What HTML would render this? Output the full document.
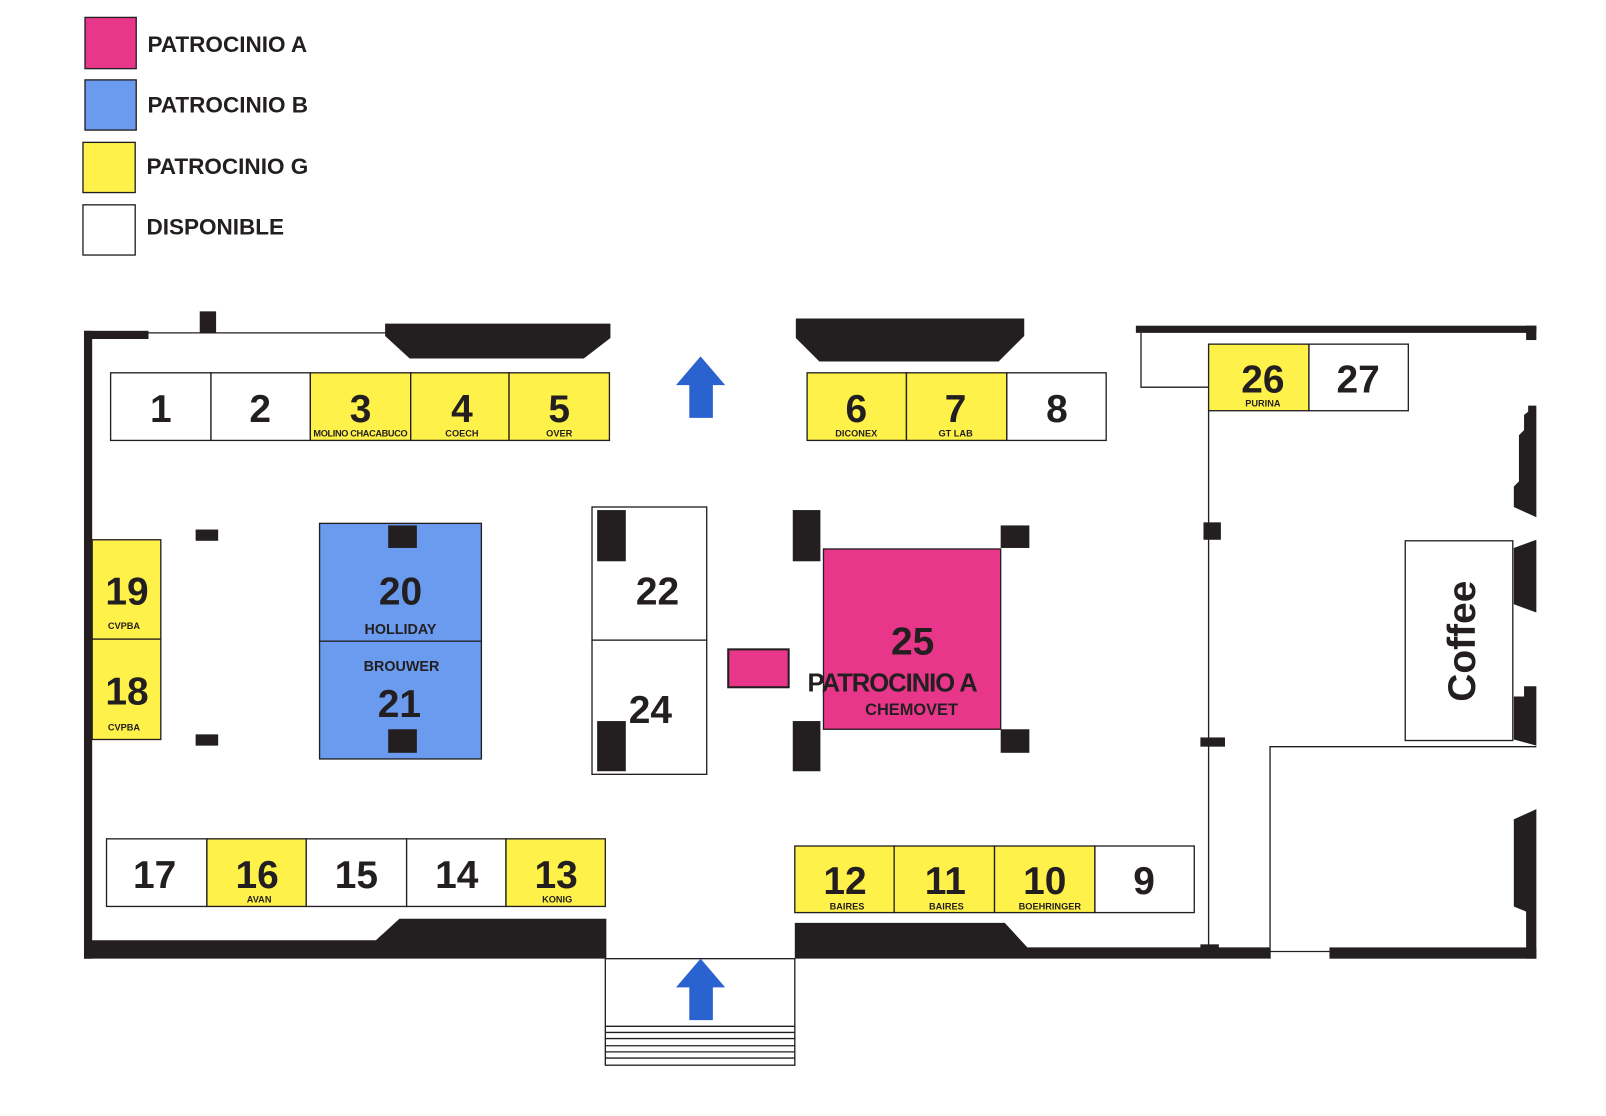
<!DOCTYPE html>
<html><head><meta charset="utf-8"><style>
html,body{margin:0;padding:0;background:#fff;}
svg{display:block;}
text{font-family:"Liberation Sans",sans-serif;font-weight:bold;fill:#231f20;}
.n{font-size:38px;text-anchor:middle;}
.s{font-size:9px;text-anchor:middle;}
.m{font-size:14px;text-anchor:middle;}
.lg{font-size:22px;}
.b{stroke:#231f20;stroke-width:1.3;}
</style></head><body>
<svg width="1606" height="1116" viewBox="0 0 1568 1089.6" preserveAspectRatio="none" xmlns="http://www.w3.org/2000/svg">
<!-- legend -->
<rect x="83" y="17" width="50" height="50" fill="#e8378a" class="b"/>
<rect x="83" y="78" width="50" height="49" fill="#6b9bef" class="b"/>
<rect x="81" y="139" width="51" height="49" fill="#fef24a" class="b"/>
<rect x="81" y="200" width="51" height="49" fill="#fff" class="b"/>
<text x="144" y="51" class="lg">PATROCINIO A</text>
<text x="144" y="110" class="lg">PATROCINIO B</text>
<text x="143" y="170" class="lg">PATROCINIO G</text>
<text x="143" y="229" class="lg">DISPONIBLE</text>

<g fill="#231f20">
<rect x="82" y="323" width="8" height="613"/>
<rect x="82" y="323" width="63" height="8"/>
<rect x="195" y="304" width="16" height="21"/>
<polygon points="376,316 596,316 596,330 570,350 400,350 376,328"/>
<polygon points="777,311 1000,311 1000,328 975,353 800,353 777,330"/>
<rect x="1109" y="318" width="391" height="7"/>
<rect x="1490" y="318" width="10" height="14"/>
<polygon points="1492,396 1500,396 1500,505 1478,495 1478,475 1483,470 1483,425 1488,420 1488,405 1492,402"/>
<polygon points="1478,535 1500,527 1500,598 1478,590"/>
<polygon points="1478,680 1488,680 1488,670 1500,670 1500,728 1478,722"/>
<polygon points="1478,800 1500,790 1500,936 1490,936 1490,890 1478,885"/>
<rect x="1175" y="510" width="17" height="17"/>
<rect x="1172" y="720" width="24" height="9"/>
<rect x="1172" y="922" width="18" height="10"/>
<polygon points="82,918 367,918 390,897 592,897 592,936 82,936"/>
<polygon points="776,901 981,901 1003,925 1240,925 1240,936 776,936"/>
<rect x="1298" y="925" width="202" height="11"/>
<rect x="191" y="517" width="22" height="11"/>
<rect x="191" y="717" width="22" height="11"/>
</g>
<g fill="none" class="b">
<line x1="145" y1="325" x2="378" y2="325"/>
<polyline points="1114,325 1114,378 1180,378"/>
<line x1="1180" y1="400" x2="1180" y2="930"/>
<polyline points="1240,936 1240,729 1500,729"/>
<line x1="1240" y1="929" x2="1298" y2="929"/>
<rect x="591" y="936" width="185" height="104"/>
<line x1="591" y1="1002" x2="776" y2="1002"/>
<line x1="591" y1="1008" x2="776" y2="1008"/>
<line x1="591" y1="1014" x2="776" y2="1014"/>
<line x1="591" y1="1021" x2="776" y2="1021"/>
<line x1="591" y1="1027" x2="776" y2="1027"/>
<line x1="591" y1="1033" x2="776" y2="1033"/>
</g>
<polygon points="684,348 708,376 696,376 696,408 673,408 673,376 660,376" fill="#2a62d0"/>
<polygon points="684,936 708,964 696,964 696,996 673,996 673,964 660,964" fill="#2a62d0"/>

<g class="b">
<rect x="108" y="364" width="98" height="66" fill="#fff"/>
<rect x="206" y="364" width="97" height="66" fill="#fff"/>
<rect x="303" y="364" width="98" height="66" fill="#fef24a"/>
<rect x="401" y="364" width="96" height="66" fill="#fef24a"/>
<rect x="497" y="364" width="98" height="66" fill="#fef24a"/>
<rect x="788" y="364" width="97" height="66" fill="#fef24a"/>
<rect x="885" y="364" width="98" height="66" fill="#fef24a"/>
<rect x="983" y="364" width="97" height="66" fill="#fff"/>
<rect x="1180" y="336" width="98" height="65" fill="#fef24a"/>
<rect x="1278" y="336" width="97" height="65" fill="#fff"/>
<rect x="90" y="527" width="67" height="97" fill="#fef24a"/>
<rect x="90" y="624" width="67" height="98" fill="#fef24a"/>
<rect x="312" y="511" width="158" height="115" fill="#6b9bef"/>
<rect x="312" y="626" width="158" height="115" fill="#6b9bef"/>
<rect x="578" y="495" width="112" height="130" fill="#fff"/>
<rect x="578" y="625" width="112" height="131" fill="#fff"/>
<rect x="711" y="634" width="59" height="37" fill="#e8378a" stroke-width="2"/>
<rect x="804" y="536" width="173" height="176" fill="#e8378a"/>
<rect x="1372" y="528" width="105" height="195" fill="#fff"/>
<rect x="104" y="819" width="98" height="66" fill="#fff"/>
<rect x="202" y="819" width="97" height="66" fill="#fef24a"/>
<rect x="299" y="819" width="98" height="66" fill="#fff"/>
<rect x="397" y="819" width="97" height="66" fill="#fff"/>
<rect x="494" y="819" width="97" height="66" fill="#fef24a"/>
<rect x="776" y="826" width="97" height="65" fill="#fef24a"/>
<rect x="873" y="826" width="98" height="65" fill="#fef24a"/>
<rect x="971" y="826" width="98" height="65" fill="#fef24a"/>
<rect x="1069" y="826" width="97" height="65" fill="#fff"/>
</g>
<g fill="#231f20">
<rect x="379" y="513" width="28" height="22"/>
<rect x="379" y="712" width="28" height="23"/>
<rect x="583" y="498" width="28" height="50"/>
<rect x="583" y="704" width="28" height="49"/>
<rect x="774" y="498" width="27" height="50"/>
<rect x="774" y="704" width="27" height="49"/>
<rect x="977" y="513" width="28" height="22"/>
<rect x="977" y="712" width="28" height="23"/>
</g>

<text x="157" y="412" class="n">1</text>
<text x="254" y="412" class="n">2</text>
<text x="352" y="412" class="n">3</text>
<text x="451" y="412" class="n">4</text>
<text x="546" y="412" class="n">5</text>
<text x="352" y="426" class="s" textLength="92">MOLINO CHACABUCO</text>
<text x="451" y="426" class="s">COECH</text>
<text x="546" y="426" class="s">OVER</text>
<text x="836" y="412" class="n">6</text>
<text x="933" y="412" class="n">7</text>
<text x="1032" y="412" class="n">8</text>
<text x="836" y="426" class="s">DICONEX</text>
<text x="933" y="426" class="s">GT LAB</text>
<text x="1233" y="383" class="n">26</text>
<text x="1326" y="383" class="n">27</text>
<text x="1233" y="397" class="s">PURINA</text>
<text x="124" y="590" class="n">19</text>
<text x="121" y="614" class="s">CVPBA</text>
<text x="124" y="688" class="n">18</text>
<text x="121" y="713" class="s">CVPBA</text>
<text x="391" y="590" class="n">20</text>
<text x="391" y="619" class="m">HOLLIDAY</text>
<text x="392" y="655" class="m">BROUWER</text>
<text x="390" y="700" class="n">21</text>
<text x="642" y="590" class="n">22</text>
<text x="635" y="706" class="n">24</text>
<text x="891" y="639" class="n">25</text>
<text x="871" y="675" style="font-size:25px;text-anchor:middle;letter-spacing:-1px">PATROCINIO A</text>
<text x="890" y="698" style="font-size:16px;text-anchor:middle">CHEMOVET</text>
<text x="151" y="867" class="n">17</text>
<text x="251" y="867" class="n">16</text>
<text x="348" y="867" class="n">15</text>
<text x="446" y="867" class="n">14</text>
<text x="543" y="867" class="n">13</text>
<text x="253" y="881" class="s">AVAN</text>
<text x="544" y="881" class="s">KONIG</text>
<text x="825" y="873" class="n">12</text>
<text x="923" y="873" class="n">11</text>
<text x="1020" y="873" class="n">10</text>
<text x="1117" y="873" class="n">9</text>
<text x="827" y="888" class="s">BAIRES</text>
<text x="924" y="888" class="s">BAIRES</text>
<text x="1025" y="888" class="s">BOEHRINGER</text>
<text transform="translate(1440,626) rotate(-90)" style="font-size:38px;text-anchor:middle">Coffee</text>
</svg>
</body></html>
